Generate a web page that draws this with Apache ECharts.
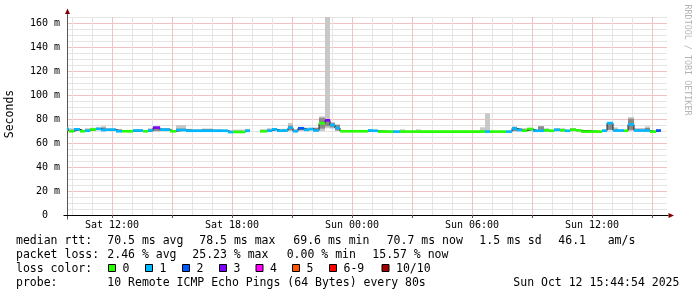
<!DOCTYPE html>
<html><head><meta charset="utf-8">
<script src="https://cdn.jsdelivr.net/npm/echarts@6/dist/echarts.min.js"></script>
<style>html,body{margin:0;padding:0;background:#fff}#c{width:697px;height:297px}</style>
</head><body><div id="c"></div>
<script>
// ---- data (hours since Sat 00:00; values in ms) ----
const segStart = [9.75,9.85,10.10,10.40,10.65,10.90,11.20,11.45,11.70,12.20,12.50,13.05,13.55,13.80,14.05,14.40,14.90,15.20,15.70,16.00,
  16.50,17.05,17.55,17.80,18.05,18.65,18.90,19.40,19.75,20.00,20.25,20.50,20.80,21.05,21.30,21.60,21.85,22.05,22.35,22.65,
  22.90,23.15,23.40,24.00,24.80,25.05,25.30,26.05,26.40,26.65,27.20,27.45,30.40,30.65,30.90,31.70,32.00,32.25,32.50,32.75,
  33.05,33.30,33.60,33.85,34.10,34.40,34.65,34.90,35.20,35.45,36.50,36.75,37.05,37.30,37.60,37.80,38.10,38.65,38.90,39.20];
const dataEnd = 39.45;
const medianMs = [71.7,69.8,71.4,69.8,70.2,71.2,71.8,70.8,71.1,69.8,69.8,70.4,69.8,70.4,72.8,71.1,69.8,70.8,70.2,70.2,
  70.2,70.2,70.2,69.1,69.2,70.2,null,69.8,70.2,71.4,70.2,70.4,72.7,69.8,72.3,71.0,71.7,70.5,76.4,78.9,
  75.0,72.5,69.8,69.8,70.4,70.2,69.5,69.5,69.5,69.5,69.5,69.5,69.5,69.5,69.5,69.5,72.1,70.8,70.2,71.7,
  70.2,70.2,70.6,70.2,71.0,70.6,70.2,71.0,70.6,69.5,70.2,76.6,70.4,70.4,70.2,75.4,70.4,70.4,69.5,70.4];
const lossCount = [1,0,1,0,1,0,1,1,1,1,0,1,0,1,3,1,0,1,1,1,
  1,1,1,1,0,1,null,0,1,1,1,1,1,1,2,1,1,1,0,3,
  1,1,0,0,1,1,0,1,0,0,0,0,0,1,0,1,1,1,0,0,
  1,1,0,0,1,0,1,0,0,0,1,1,1,1,0,1,1,1,0,2];
const smokeLo = [70.5,69.0,70.0,69.0,69.3,70.0,70.5,69.8,70.0,69.0,69.0,69.5,69.0,69.5,69.5,69.8,69.0,69.8,69.3,69.3,
  69.3,69.3,69.3,68.4,68.4,69.3,null,69.0,69.3,70.3,69.3,69.5,70.0,69.0,70.0,69.8,70.3,69.5,70.0,72.3,
  72.0,70.0,69.0,69.0,69.5,69.3,68.8,68.8,68.8,68.8,68.8,68.8,68.8,68.8,68.8,68.8,69.5,69.8,69.3,70.0,
  69.3,69.3,69.5,69.3,69.8,69.5,69.3,69.8,69.5,68.8,69.3,70.5,69.5,69.5,69.3,70.0,69.5,69.5,68.8,69.5];
const smokeHi = [73.0,72.3,72.5,71.0,72.3,72.7,73.0,74.0,72.3,71.5,70.8,71.5,70.8,72.3,74.0,72.5,70.8,75.0,71.8,71.5,
  72.0,71.5,71.2,70.5,71.2,71.8,null,71.4,72.3,72.5,71.4,71.8,76.7,71.5,73.0,72.8,72.5,73.0,82.2,166.0,
  77.5,75.6,70.6,70.6,71.5,71.0,70.3,70.3,71.4,70.3,71.4,70.3,73.1,84.7,70.3,70.3,73.5,72.5,72.3,72.5,
  71.2,73.9,72.3,71.0,72.3,72.3,71.0,72.3,71.5,70.3,71.4,77.5,73.0,71.2,71.0,81.6,72.5,73.9,70.3,71.2];
const innerLo = [71.0,69.3,70.5,69.3,69.6,70.5,71.0,70.0,70.5,69.3,69.3,69.8,69.3,69.8,70.0,70.3,69.3,70.0,69.6,69.6,
  69.6,69.6,69.6,68.7,68.7,69.6,null,69.3,69.6,70.6,69.6,69.8,70.8,69.3,70.8,70.2,70.8,69.8,72.0,74.0,
  73.0,70.5,69.3,69.3,69.8,69.6,69.0,69.0,69.0,69.0,69.0,69.0,69.0,69.0,69.0,69.0,70.0,70.0,69.6,70.5,
  69.6,69.6,69.8,69.6,70.2,69.8,69.6,70.2,69.8,69.0,69.6,71.0,69.8,69.8,69.6,71.0,69.8,69.8,69.0,69.8];
const innerHi = [72.3,71.0,72.3,70.5,71.2,72.0,72.5,72.8,71.8,71.2,70.4,71.0,70.4,71.5,73.5,72.2,70.4,72.0,71.5,71.0,
  71.7,71.0,70.8,69.8,70.0,71.0,null,70.5,71.2,72.0,71.0,71.2,74.5,71.0,72.8,72.0,72.2,72.5,81.0,80.0,
  76.5,75.0,70.3,70.3,71.2,70.8,70.0,70.0,70.0,70.0,70.0,70.0,70.2,70.2,70.0,70.0,73.5,72.2,71.2,72.2,
  70.8,73.9,71.5,70.8,71.8,71.5,70.8,72.0,71.2,70.0,70.8,77.2,71.5,71.0,70.8,80.2,71.2,72.5,70.0,71.0];

const yTickValues = [0,20,40,60,80,100,120,140,160];
const yMinorValues = [5,10,15,25,30,35,45,50,55,65,70,75,85,90,95,105,110,115,125,130,135,145,150,155,165];
const xLabelHours = [12,18,24,30,36];
const xMajorHours = [12,15,18,21,24,27,30,33,36,39];
const xMinorHours = [10,11,13,14,16,17,19,20,22,23,25,26,28,29,31,32,34,35,37,38];
const lossLabels = ['0','1','2','3','4','5','6-9','10/10'];
const lossColors = ['#26ff00','#00b8ff','#0059ff','#7e00ff','#ff00ff','#ff5500','#ff0000','#a10000'];
const rttStats = ['70.5 ms avg','78.5 ms max','69.6 ms min','70.7 ms now','1.5 ms sd','46.1','am/s'];
const lossStats = ['2.46 % avg','25.23 % max','0.00 % min','15.57 % now'];
const probeText = '10 Remote ICMP Echo Pings (64 Bytes) every 80s';
const dateText = 'Sun Oct 12 15:44:54 2025';
const X_MIN = 9.75, X_MAX = 39.75, Y_MAX = 165;

// ---- build series data ----
function segEnd(i){ return i + 1 < segStart.length ? segStart[i+1] : dataEnd; }
const outerData = [], innerData = [], bandData = [], lineData = [];
for (let i = 0; i < segStart.length; i++) {
  lineData.push([segStart[i], medianMs[i]]);
  if (medianMs[i] === null) continue;
  const c = lossCount[i];
  const ci = c <= 5 ? c : (c < 10 ? 6 : 7);
  outerData.push([segStart[i], segEnd(i), smokeLo[i], smokeHi[i]]);
  innerData.push([segStart[i], segEnd(i), innerLo[i], innerHi[i]]);
  bandData.push([segStart[i], segEnd(i), medianMs[i], ci]);
}
lineData.push([dataEnd, medianMs[medianMs.length-1]]);

function rectRender(fill) {
  return function (params, api) {
    const a = api.coord([api.value(0), api.value(3)]);
    const b = api.coord([api.value(1), api.value(2)]);
    return {type:'rect', shape:{x:a[0], y:a[1], width:b[0]-a[0], height:Math.max(b[1]-a[1], 0.8)}, style:{fill:fill}};
  };
}
function bandRender(params, api) {
  const a = api.coord([api.value(0), api.value(2)]);
  const b = api.coord([api.value(1), api.value(2)]);
  return {type:'rect', shape:{x:a[0], y:a[1]-1.3, width:b[0]-a[0], height:2.6}, style:{fill:lossColors[api.value(3)]}};
}

const MONO = 'DejaVu Sans Mono';
const minorGrid = {show:true, lineStyle:{color:'#e4e4e4', width:1, type:'solid'}};
const majorGrid = {show:true, lineStyle:{color:'#f0c2c2', width:1, type:'solid'}};
function pad(n){ return (n<10?'0':'') + n; }

const option = {
  animation: false,
  backgroundColor: '#ffffff',
  grid: {left:67, right:30, top:17, bottom:82, containLabel:false},
  xAxis: [
    {type:'value', min:X_MIN, max:X_MAX, position:'bottom',
     axisLine:{show:false}, axisTick:{show:false, customValues:xMinorHours},
     axisLabel:{show:false}, splitLine:minorGrid},
    {type:'value', min:X_MIN, max:X_MAX, position:'bottom',
     axisLine:{show:false}, axisTick:{show:true, length:3, customValues:xMajorHours, lineStyle:{color:'#555'}},
     axisLabel:{show:false}, splitLine:majorGrid},
    {type:'value', min:X_MIN, max:X_MAX, position:'bottom',
     axisLine:{show:true, lineStyle:{color:'#000', width:1}},
     axisTick:{show:false, customValues:xLabelHours},
     axisLabel:{show:true, customValues:xLabelHours, margin:5, color:'#000', fontFamily:MONO, fontSize:10,
       formatter: h => (h < 24 ? 'Sat ' : 'Sun ') + pad(h % 24) + ':00'},
     splitLine:{show:false}}
  ],
  yAxis: [
    {type:'value', min:0, max:Y_MAX, position:'left',
     axisLine:{show:false}, axisTick:{show:false, customValues:yMinorValues}, axisLabel:{show:false}, splitLine:minorGrid},
    {type:'value', min:0, max:Y_MAX, position:'left',
     axisLine:{show:true, lineStyle:{color:'#555', width:1}},
     axisTick:{show:false, customValues:yTickValues},
     axisLabel:{show:true, customValues:yTickValues, margin:7, color:'#000', fontFamily:MONO, fontSize:10,
       formatter: v => v === 0 ? '0  ' : v + ' m'},
     splitLine:majorGrid}
  ],
  series: [
    {type:'custom', name:'smoke', xAxisIndex:0, yAxisIndex:0, clip:true, z:2,
     renderItem: rectRender('#c8c8c8'), encode:{x:[0,1], y:[2,3]}, data: outerData},
    {type:'custom', name:'smoke inner', xAxisIndex:0, yAxisIndex:0, clip:true, z:3,
     renderItem: rectRender('#8a8a8a'), encode:{x:[0,1], y:[2,3]}, data: innerData},
    {type:'line', name:'median', xAxisIndex:0, yAxisIndex:0, step:'end', symbol:'none', z:4,
     lineStyle:{color:'#202020', width:1}, data: lineData, connectNulls:false},
    {type:'custom', name:'median loss', xAxisIndex:0, yAxisIndex:0, clip:true, z:5,
     renderItem: bandRender, encode:{x:[0,1], y:2}, data: bandData}
  ]
};

const chart = echarts.init(document.getElementById('c'), null, {renderer:'canvas'});
chart.setOption(option);

const tl = chart.convertToPixel({xAxisIndex:0, yAxisIndex:0}, [X_MIN, Y_MAX]);
const br = chart.convertToPixel({xAxisIndex:0, yAxisIndex:0}, [X_MAX, 0]);
const L = Math.round(tl[0]) + 0.5, T = tl[1], R = br[0], B = Math.round(br[1]) + 0.5;
const arrowColor = '#7f0000';
const txt = (text, x, y, extra) => Object.assign({type:'text', x:x, y:y, silent:true,
  style:{text:text, fill:'#000', font:'11.5px "' + MONO + '"', textVerticalAlign:'middle'}}, extra || {});

const g = [];
// axis arrows
g.push({type:'line', shape:{x1:L, y1:T, x2:L, y2:T-3}, style:{stroke:'#555', lineWidth:1}});
g.push({type:'polygon', shape:{points:[[L-2.5,T-3],[L+2.5,T-3],[L,T-8.5]]}, style:{fill:arrowColor}});
g.push({type:'line', shape:{x1:L-4, y1:B, x2:L, y2:B}, style:{stroke:'#000', lineWidth:1}});
g.push({type:'line', shape:{x1:L, y1:B, x2:L, y2:B+4}, style:{stroke:'#555', lineWidth:1}});
g.push({type:'line', shape:{x1:R, y1:B, x2:R+1.5, y2:B}, style:{stroke:'#000', lineWidth:1}});
g.push({type:'polygon', shape:{points:[[R+1.5,B-2.5],[R+1.5,B+2.5],[R+7,B]]}, style:{fill:arrowColor}});
// axis title and credit
g.push(txt('Seconds', 10, 114, {rotation:Math.PI/2, style:{text:'Seconds', fill:'#000', font:'11.5px "' + MONO + '"', textAlign:'center', textVerticalAlign:'middle'}}));
g.push({type:'text', x:687.5, y:60, rotation:-Math.PI/2, silent:true,
  style:{text:'RRDTOOL / TOBI OETIKER', fill:'#b4b4b4', font:'8.4px "' + MONO + '"', textAlign:'center', textVerticalAlign:'middle'}});
// legend lines
const rttX = [107.3,199.3,293.3,386.7,479.3,558.3,607.7];
g.push(txt('median rtt:', 16, 241));
rttStats.forEach((s,i) => g.push(txt(s, rttX[i], 241)));
const lossX = [107.3,192.3,286.7,372.3];
g.push(txt('packet loss:', 16, 255));
lossStats.forEach((s,i) => g.push(txt(s, lossX[i], 255)));
g.push(txt('loss color:', 16, 269));
const boxX = [108.5,145.5,182.5,219.5,256,292.5,329.5,382];
lossLabels.forEach((s,i) => {
  g.push({type:'rect', shape:{x:boxX[i], y:264.5, width:7, height:7}, style:{fill:lossColors[i], stroke:'#000', lineWidth:1}});
  g.push(txt(s, boxX[i] + 14, 269));
});
g.push(txt('probe:', 16, 283));
g.push(txt(probeText, 107.3, 283));
g.push(txt(dateText, 513.3, 283));
chart.setOption({graphic: g});
</script></body></html>
